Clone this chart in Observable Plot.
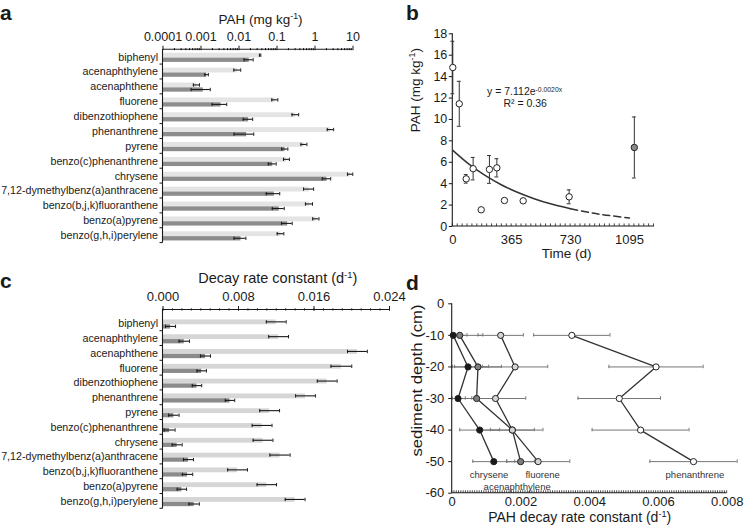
<!DOCTYPE html>
<html><head><meta charset="utf-8">
<script src="https://cdn.jsdelivr.net/npm/d3@7"></script>
<script src="https://cdn.jsdelivr.net/npm/@observablehq/plot@0.6"></script>
<style>
body{margin:0;background:#fff;}
#fig{position:relative;width:745px;height:529px;overflow:hidden;font-family:"Liberation Sans",Arial,sans-serif;color:#1a1a1a;}
#fig svg{position:absolute;left:0;top:0;}
.lbl{position:absolute;font-weight:bold;font-size:21px;line-height:24px;}
</style></head><body><div id="fig"></div>
<script>
// ---------- DATA ----------
const cats = ["biphenyl","acenaphthylene","acenaphthene","fluorene","dibenzothiophene","phenanthrene","pyrene","benzo(c)phenanthrene","chrysene","7,12-dymethylbenz(a)anthracene","benzo(b,j,k)fluoranthene","benzo(a)pyrene","benzo(g,h,i)perylene"];
// panel a: PAH concentration (mg/kg), light = initial, dark = final
const pahLight    = [0.036, 0.0092, 0.00077, 0.089, 0.31, 2.6, 0.52, 0.18, 8.5, 0.71, 0.71, 1.07, 0.126];
const pahLightErr = [0.0015, 0.0019, 0.00014, 0.016, 0.062, 0.5, 0.093, 0.032, 1.35, 0.21, 0.15, 0.2, 0.025];
const pahDark     = [0.0186, 0.00141, 0.00115, 0.00336, 0.0179, 0.0159, 0.163, 0.077, 2.07, 0.085, 0.115, 0.191, 0.0113];
const pahDarkErr  = [0.005, 0.00015, 0.0006, 0.0014, 0.005, 0.0085, 0.03, 0.018, 0.52, 0.033, 0.04, 0.06, 0.0039];
const pahTicks = [0.0001, 0.001, 0.01, 0.1, 1, 10];
const pahTickLabels = ["0.0001", "0.001", "0.01", "0.1", "1", "10"];
// panel c: decay rate constant (1/d)
const rateLight    = [0.0120, 0.01225, 0.0206, 0.0189, 0.0174, 0.0151, 0.0113, 0.0105, 0.0106, 0.0124, 0.0079, 0.0110, 0.0140];
const rateLightErr = [0.00105, 0.00105, 0.00105, 0.0011, 0.00105, 0.00105, 0.00105, 0.00105, 0.00105, 0.00107, 0.00105, 0.00103, 0.00105];
const rateDark     = [0.0008, 0.00225, 0.0045, 0.0041, 0.0036, 0.0071, 0.00115, 0.0007, 0.0015, 0.0027, 0.0026, 0.0020, 0.0033];
const rateDarkErr  = [0.00053, 0.00055, 0.00053, 0.0005, 0.0005, 0.0005, 0.00055, 0.00058, 0.00053, 0.00053, 0.00055, 0.0005, 0.00055];
const rateTicks = [0, 0.008, 0.016, 0.024];
const rateTickLabels = ["0.000", "0.008", "0.016", "0.024"];
// panel b: total PAH over time
const timeDays   = [0, 40, 83, 126, 176, 227, 273, 320, 436, 721];
const pahTotal   = [14.85, 11.46, 4.45, 5.4, 1.56, 5.33, 5.48, 2.43, 2.4, 2.77];
const pahTotalErr= [2.45, 2.1, 0.4, 1.05, 0, 1.3, 0.85, 0, 0, 0.65];
const lateTime = [1125], latePah = [7.38], latePahErr = [2.85];
const fitTimeSolid = [0, 100, 200, 300, 400, 500, 600, 730];
const fitPahSolid  = [7.11, 5.82, 4.77, 3.90, 3.20, 2.62, 2.14, 1.65];
const fitTimeDash  = [730, 850, 950, 1095];
const fitPahDash   = [1.65, 1.30, 1.06, 0.80];
const timeTicks = [0, 365, 730, 1095];
const pahAxisTicks = [0, 2, 4, 6, 8, 10, 12, 14, 16, 18];
// panel d: decay rate vs depth
const depths = [-10, -20, -30, -40, -50];
const seriesNames = ["chrysene", "acenaphthylene", "fluorene", "phenanthrene"];
const decayChrysene      = [0.00003, 0.00046, 0.00017, 0.0008, 0.00121];
const decayChryseneErr   = [0.0004, 0.0006, 0.0004, 0.00058, 0.00061];
const decayAcenaphthylene    = [0.00022, 0.00075, 0.00071, 0.00175, 0.00199];
const decayAcenaphthyleneErr = [0.00067, 0.00068, 0.0006, 0.00064, 0.0004];
const decayFluorene      = [0.00141, 0.00183, 0.00126, 0.00175, 0.0025];
const decayFluoreneErr   = [0.00066, 0.00095, 0.00088, 0.00089, 0.00092];
const decayPhenanthrene    = [0.00348, 0.00593, 0.00486, 0.00548, 0.00702];
const decayPhenanthreneErr = [0.00111, 0.00137, 0.0012, 0.00141, 0.00127];
const depthTicks = [0, -10, -20, -30, -40, -50, -60];
const decayTicks = [0, 0.002, 0.004, 0.006, 0.008];
const decayTickLabels = ["0", "0.002", "0.004", "0.006", "0.008"];
const seriesLabelDecay = [0.00107, 0.00189, 0.00263, 0.00706];
const seriesLabelDepth = [-54.1, -58.0, -54.1, -54.1];

// ---------- HELPERS ----------
const W = 745, H = 529;
const FONT = '"Liberation Sans", Arial, sans-serif';
const INK = "#1a1a1a";
const style = {fontFamily: FONT, fontSize: "12.5px", color: INK, background: "transparent", overflow: "visible"};
const fig = document.getElementById("fig");

function frameLines(sides) {
  return (index, scales, values, d) => {
    const g = d3.create("svg:g").attr("stroke", INK).attr("stroke-width", 1.1).attr("fill", "none");
    const l = d.marginLeft, r = d.width - d.marginRight, t = d.marginTop, b = d.height - d.marginBottom;
    if (sides.includes("top")) g.append("line").attr("x1", l).attr("x2", r).attr("y1", t).attr("y2", t);
    if (sides.includes("bottom")) g.append("line").attr("x1", l).attr("x2", r).attr("y1", b).attr("y2", b);
    if (sides.includes("left")) g.append("line").attr("x1", l).attr("x2", l).attr("y1", t).attr("y2", b);
    return g.node();
  };
}
function bandTicks(len) {
  return (index, scales, values, d) => {
    const y = scales.y;
    const bw = typeof y.bandwidth === "function" ? y.bandwidth() : y.bandwidth;
    const g = d3.create("svg:g").attr("stroke", INK).attr("stroke-width", 1);
    for (const c of cats) {
      const yy = y(c) + bw;
      g.append("line").attr("x1", d.marginLeft - len).attr("x2", d.marginLeft).attr("y1", yy).attr("y2", yy);
    }
    return g.node();
  };
}
function xTicksIn(vals, len) {
  return (index, scales, values, d) => {
    const g = d3.create("svg:g").attr("stroke", INK).attr("stroke-width", 0.8);
    const y0 = d.height - d.marginBottom;
    for (const v of vals) {
      const x = scales.x(v);
      g.append("line").attr("x1", x).attr("x2", x).attr("y1", y0).attr("y2", y0 - len);
    }
    return g.node();
  };
}
function supify(svg) {
  svg.querySelectorAll("text").forEach(t => {
    const s = t.textContent;
    if (!s.includes("^{")) return;
    const parts = s.split(/(\^\{[^}]*\})/);
    t.textContent = "";
    for (const p of parts) {
      if (!p) continue;
      const ts = document.createElementNS("http://www.w3.org/2000/svg", "tspan");
      if (p.startsWith("^{")) {
        ts.textContent = p.slice(2, -1);
        ts.setAttribute("baseline-shift", "super");
        ts.setAttribute("font-size", "65%");
      } else ts.textContent = p;
      t.appendChild(ts);
    }
  });
}
function stretch(svg, text, len) {
  svg.querySelectorAll("text").forEach(t => {
    if (t.textContent === text) { t.setAttribute("textLength", len); t.setAttribute("lengthAdjust", "spacingAndGlyphs"); }
  });
}
function add(svg) { supify(svg); fig.appendChild(svg); return svg; }

// ---------- BAR PANELS (a, c) ----------
function barPanel(o) {
  const bw = (o.bandBottom - o.bandTop) / cats.length;
  const rows = cats.map((c, i) => ({cat: c, l: o.light[i], le: o.lightErr[i], d: o.dark[i], de: o.darkErr[i]}));
  const L0 = 0.24 * bw, L1 = 0.565 * bw, D1 = 0.855 * bw;
  const lc = (L0 + L1) / 2, dc = (L1 + D1) / 2;
  const errLine = (lo, hi, c) => Plot.barX(rows, {y: "cat", x1: lo, x2: hi, fill: INK, insetTop: c - 0.55, insetBottom: bw - c - 0.55});
  const cap = (x, c) => Plot.tickX(rows, {y: "cat", x, stroke: INK, strokeWidth: 1, insetTop: c - 1.7, insetBottom: bw - c - 1.7});
  return Plot.plot({
    width: W, height: H,
    marginLeft: o.xLeft, marginRight: W - o.xRight, marginTop: o.axisY, marginBottom: H - o.bandBottom,
    x: {type: o.xType, domain: o.xDomain, axis: null, label: null},
    y: {type: "band", domain: cats, range: [o.bandTop, o.bandBottom], padding: 0, round: false, axis: null, label: null},
    style,
    marks: [
      Plot.barX(rows, {y: "cat", x1: o.base, x2: "l", fill: o.lightFill, insetTop: L0, insetBottom: bw - L1}),
      Plot.barX(rows, {y: "cat", x1: o.base, x2: "d", fill: o.darkFill, insetTop: L1, insetBottom: bw - D1}),
      errLine(d => d.l - d.le, d => d.l + d.le, lc),
      cap(d => d.l - d.le, lc), cap(d => d.l + d.le, lc),
      errLine(d => d.d - d.de, d => d.d + d.de, dc),
      cap(d => d.d - d.de, dc), cap(d => d.d + d.de, dc),
      frameLines(["top", "left"]),
      bandTicks(3),
      Plot.axisX({anchor: "top", ticks: o.minor, tickFormat: () => "", tickSize: 2.2, label: null}),
      Plot.axisX({anchor: "top", ticks: o.ticks, tickFormat: v => o.tickLabels[o.ticks.indexOf(v)], tickSize: 4.5, tickPadding: 4.5, fontSize: o.tickFont, label: null}),
      Plot.axisY({anchor: "left", tickSize: 0, tickPadding: 5, fontSize: 10.7, label: null}),
      Plot.text([o.title], {text: d => d, frameAnchor: "top", dx: o.titleDx, dy: o.titleDy, lineAnchor: "middle", fontSize: o.titleFont, fill: INK})
    ]
  });
}

const logMinor = [];
for (let e = -4; e < 1; e++) for (let k = 2; k <= 9; k++) logMinor.push(k * Math.pow(10, e));

add(barPanel({
  xType: "log", xDomain: [0.0001, 10], xLeft: 162.5, xRight: 352.5, axisY: 49.2,
  bandTop: 49.2, bandBottom: 242.6, base: 0.0001,
  light: pahLight, lightErr: pahLightErr, dark: pahDark, darkErr: pahDarkErr,
  lightFill: "#e4e4e4", darkFill: "#8d8d8d",
  ticks: pahTicks, tickLabels: pahTickLabels, minor: logMinor, tickFont: 12.5,
  title: "PAH (mg kg^{-1})", titleDx: 2.5, titleDy: -29.7, titleFont: 13.5
}));

add(barPanel({
  xType: "linear", xDomain: [0, 0.024], xLeft: 162.5, xRight: 389, axisY: 309.5,
  bandTop: 315.9, bandBottom: 508.3, base: 0,
  light: rateLight, lightErr: rateLightErr, dark: rateDark, darkErr: rateDarkErr,
  lightFill: "#d6d6d6", darkFill: "#8b8b8b",
  ticks: rateTicks, tickLabels: rateTickLabels, minor: d3.range(0, 0.0245, 0.001), tickFont: 13,
  title: "Decay rate constant (d^{-1})", titleDx: 1.5, titleDy: -31.5, titleFont: 14.5
}));

// ---------- PANEL b ----------
const bRows = timeDays.map((t, i) => ({t, y: pahTotal[i], e: pahTotalErr[i]}));
const lateRows = lateTime.map((t, i) => ({t, y: latePah[i], e: latePahErr[i]}));
const bErr = bRows.filter(d => d.e > 0).concat(lateRows);
const fitSolid = fitTimeSolid.map((t, i) => ({t, y: fitPahSolid[i]}));
const fitDash = fitTimeDash.map((t, i) => ({t, y: fitPahDash[i]}));
const capDays = 12;
const eqAt = {t: 212, pah: 12.6}, r2At = {t: 314, pah: 11.5};
add(Plot.plot({
  width: W, height: H,
  marginLeft: 452.3, marginRight: W - 654, marginTop: 33.3, marginBottom: H - 226,
  x: {domain: [0, 1250], axis: null, label: null},
  y: {domain: [0, 18], axis: null, label: null},
  style,
  marks: [
    frameLines(["left", "bottom"]),
    xTicksIn(d3.range(0, 1250, 365 / 12), 2.6),
    Plot.axisY({anchor: "left", ticks: pahAxisTicks, tickSize: 3.5, tickPadding: 2, fontSize: 12.5, label: null}),
    Plot.axisX({anchor: "bottom", ticks: timeTicks, tickFormat: d => String(d), tickSize: 0, tickPadding: 8, fontSize: 13, label: null}),
    Plot.ruleX(bErr, {x: "t", y1: d => d.y - d.e, y2: d => d.y + d.e, stroke: "#333", strokeWidth: 1}),
    Plot.ruleY(bErr, {y: d => d.y - d.e, x1: d => d.t - capDays, x2: d => d.t + capDays, stroke: "#333"}),
    Plot.ruleY(bErr, {y: d => d.y + d.e, x1: d => d.t - capDays, x2: d => d.t + capDays, stroke: "#333"}),
    Plot.line(fitSolid, {x: "t", y: "y", curve: "natural", stroke: "#333", strokeWidth: 1.5}),
    Plot.line(fitDash, {x: "t", y: "y", curve: "natural", stroke: "#333", strokeWidth: 1.5, strokeDasharray: "7,4"}),
    Plot.dot(bRows, {x: "t", y: "y", r: 3.2, fill: "white", stroke: "#222", strokeWidth: 1}),
    Plot.dot(lateRows, {x: "t", y: "y", r: 3.2, fill: "#8a8a8a", stroke: "#222", strokeWidth: 1}),
    Plot.text(["y = 7.112e^{-0.0020x}"], {text: d => d, x: eqAt.t, y: eqAt.pah, textAnchor: "start", fontSize: 10.5, fill: INK}),
    Plot.text(["R² = 0.36"], {text: d => d, x: r2At.t, y: r2At.pah, textAnchor: "start", fontSize: 10.5, fill: INK}),
    Plot.text(["PAH (mg kg^{-1})"], {text: d => d, frameAnchor: "left", rotate: -90, dx: -37.3, dy: 2, lineAnchor: "middle", fontSize: 13.5, fill: INK}),
    Plot.text(["Time (d)"], {text: d => d, frameAnchor: "bottom", dx: 13, dy: 27, lineAnchor: "middle", fontSize: 13.5, fill: INK})
  ]
}));

// ---------- PANEL d ----------
const seriesVals = [decayChrysene, decayAcenaphthylene, decayFluorene, decayPhenanthrene];
const seriesErrs = [decayChryseneErr, decayAcenaphthyleneErr, decayFluoreneErr, decayPhenanthreneErr];
const seriesFill = ["#1a1a1a", "#7f7f7f", "#d4d4d4", "#ffffff"];
const dRows = seriesNames.flatMap((s, k) => depths.map((z, i) => ({s, z, v: seriesVals[k][i], e: seriesErrs[k][i]})));
const lo = d => Math.max(0, d.v - d.e), hi = d => d.v + d.e;
const capCm = 0.55;
const labelRows = seriesNames.map((s, i) => ({s, v: seriesLabelDecay[i], z: seriesLabelDepth[i]}));
const yTitleLen = 152;
const svgD = add(Plot.plot({
  width: W, height: H,
  marginLeft: 451.7, marginRight: W - 726.7, marginTop: 303.3, marginBottom: H - 492.7,
  x: {domain: [0, 0.008], axis: null, label: null},
  y: {domain: [-60, 0], axis: null, label: null},
  style,
  marks: [
    Plot.ruleY(dRows, {y: "z", x1: lo, x2: hi, stroke: "#777", strokeWidth: 1}),
    Plot.ruleX(dRows, {x: lo, y1: d => d.z - capCm, y2: d => d.z + capCm, stroke: "#777"}),
    Plot.ruleX(dRows, {x: hi, y1: d => d.z - capCm, y2: d => d.z + capCm, stroke: "#777"}),
    Plot.line(dRows, {x: "v", y: "z", z: "s", stroke: "#333", strokeWidth: 1.3}),
    ...seriesNames.map((s, k) => Plot.dot(dRows.filter(d => d.s === s), {x: "v", y: "z", r: 3.1, fill: seriesFill[k], stroke: "#222", strokeWidth: 1})),
    Plot.text(labelRows, {x: "v", y: "z", text: "s", fontSize: 9.5, fill: "#333", lineAnchor: "middle"}),
    frameLines(["left", "bottom"]),
    xTicksIn(d3.range(0, 0.00801, 0.0002 / 3), 2.4),
    Plot.axisY({anchor: "left", ticks: depthTicks, tickFormat: d => String(d), tickSize: 3.5, tickPadding: 4.5, fontSize: 13, label: null}),
    Plot.axisX({anchor: "bottom", ticks: decayTicks, tickFormat: v => decayTickLabels[decayTicks.indexOf(v)], tickSize: 0, tickPadding: 4, fontSize: 13, label: null}),
    Plot.text(["sediment depth (cm)"], {text: d => d, frameAnchor: "left", rotate: -90, textAnchor: "start", dx: -34.5, dy: -18 + yTitleLen / 2, lineAnchor: "middle", fontSize: 14, fill: INK}),
    Plot.text(["PAH decay rate constant (d^{-1})"], {text: d => d, frameAnchor: "bottom", dx: -10, dy: 24, lineAnchor: "middle", fontSize: 14, fill: INK})
  ]
}));
stretch(svgD, "sediment depth (cm)", yTitleLen);

// ---------- panel letters ----------
[["a", 0, 0.5], ["b", 406, 0.5], ["c", 0, 268.5], ["d", 406, 270.5]].forEach(([t, x, y]) => {
  const el = document.createElement("div");
  el.className = "lbl"; el.textContent = t;
  el.style.left = x + "px"; el.style.top = y + "px";
  fig.appendChild(el);
});
</script></body></html>
